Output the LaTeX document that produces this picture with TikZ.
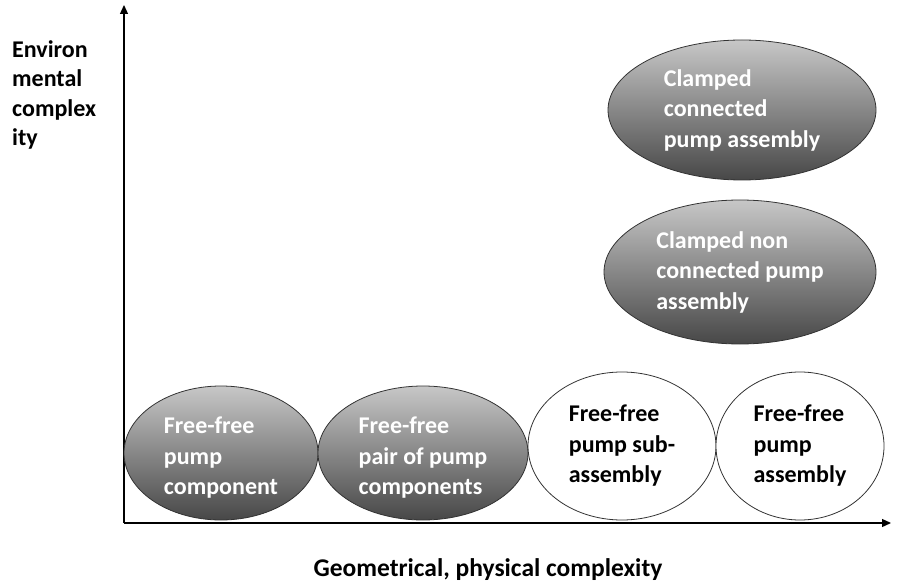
\documentclass[tikz,border=0pt]{standalone}
\usepackage{fontspec}
\setmainfont{Carlito}
\usetikzlibrary{shapes.geometric,arrows.meta}

\begin{document}
\begin{tikzpicture}[x=1pt, y=-1pt, font=\bfseries\fontsize{24}{30.5}\selectfont]
        \tikzstyle{every node}=[inner sep=0pt, align=left]
        \tikzstyle{stage}=[ellipse, draw=black!80, line width=0.8pt]
        \tikzstyle{clamped}=[stage, top color=black!22, bottom color=black!72, text=white]
        \tikzstyle{free}=[stage, fill=white, text=black]
        \tikzstyle{lowtext}=[yshift=-5pt, text=white]
        \tikzstyle{axis}=[line width=1.3pt, -{Triangle[length=9pt, width=8pt]}]

\useasboundingbox (0,0) rectangle (897,588);

% axes of the chart
        \coordinate (origin) at (124,523);
        \coordinate (ytip) at (124,5);
        \coordinate (xtip) at (891,523);
        \draw[axis] (origin) -- (ytip);
        \draw[axis] (origin) -- (xtip);

% stages along the bottom
        \node[clamped, minimum width=194pt, minimum height=134pt,
              label={[lowtext]center:{Free-free\\pump\\component}}] (comp) at (221,453) {};
        \node[clamped, minimum width=210pt, minimum height=134pt,
              label={[lowtext]center:{Free-free\\pair of pump\\components}}] (pair) at (423,453) {};
        \node[free, minimum width=188pt, minimum height=148pt] (subass) at (622,446) {Free-free\\pump sub-\\assembly};
        \node[free, minimum width=168pt, minimum height=148pt] (ass) at (800,446) {Free-free\\pump\\assembly};

% clamped stages
        \node[clamped, minimum width=272pt, minimum height=144pt] (nonconn) at (740,272) {Clamped non\\connected pump\\assembly};
        \node[clamped, minimum width=268pt, minimum height=140pt] (conn) at (742,110) {Clamped\\connected\\pump assembly};

% axis labels
        \node[anchor=north west, font=\bfseries\fontsize{24}{29.5}\selectfont] (ylabel) at (12,40) {Environ\\mental\\complex\\ity};
        \node[font=\bfseries\fontsize{25.5}{30}\selectfont] (xlabel) at (488,570) {Geometrical, physical complexity};

    \end{tikzpicture}
\end{document}
